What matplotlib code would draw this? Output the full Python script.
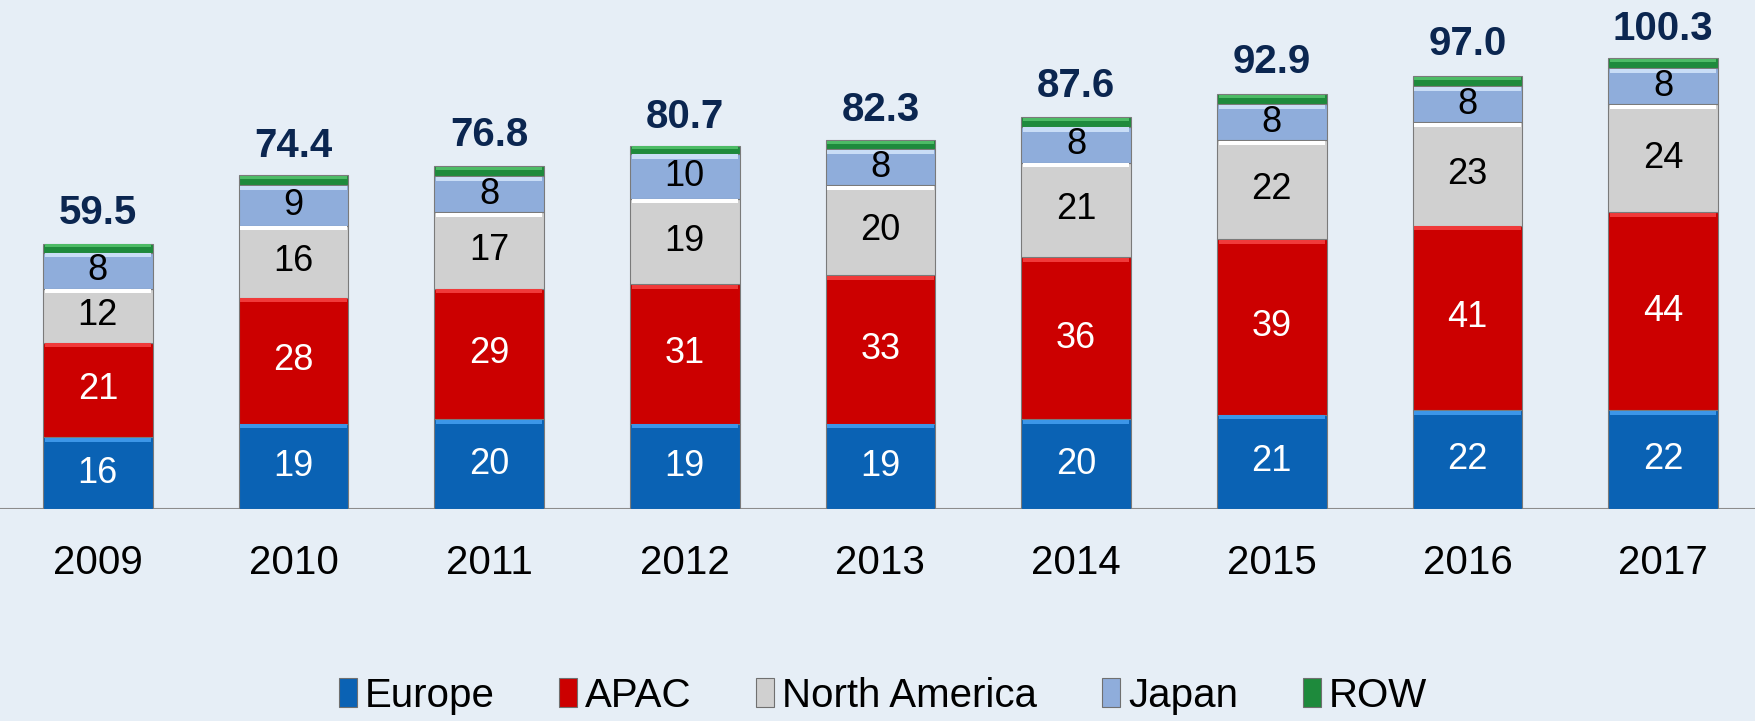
import matplotlib.pyplot as plt
import numpy as np
from matplotlib.patches import Patch

years = ["2009", "2010", "2011", "2012", "2013", "2014", "2015", "2016", "2017"]
europe = [16, 19, 20, 19, 19, 20, 21, 22, 22]
apac = [21, 28, 29, 31, 33, 36, 39, 41, 44]
north_america = [12, 16, 17, 19, 20, 21, 22, 23, 24]
japan = [8, 9, 8, 10, 8, 8, 8, 8, 8]
row = [2.0, 2.2, 2.3, 1.8, 2.0, 2.2, 2.3, 2.3, 2.3]
totals = [59.5, 74.4, 76.8, 80.7, 82.3, 87.6, 92.9, 97.0, 100.3]

series = [
    ("Europe", europe, "#0A62B4", "#3C96E8", "white"),
    ("APAC", apac, "#CC0000", "#F03A3A", "white"),
    ("North America", north_america, "#D0D0D0", "#FFFFFF", "black"),
    ("Japan", japan, "#8FADDB", "#C9DDF6", "black"),
    ("ROW", row, "#1E8A3C", "#4DBB66", None),
]

bg = "#E6EEF6"
plt.rcParams["font.family"] = ["Liberation Sans", "DejaVu Sans"]

fig = plt.figure(figsize=(17.55, 7.21), dpi=100, facecolor=bg)
ax = fig.add_axes([0, 1 - 509 / 721, 1, 509 / 721])
ax.set_facecolor(bg)

x = np.arange(len(years))
width = 0.56
bottom = np.zeros(len(years))

for name, vals, color, light, tcolor in series:
    vals = np.array(vals, dtype=float)
    ax.bar(x, vals, width, bottom=bottom, color=color,
           edgecolor="#7A7A7A", linewidth=0.8, zorder=3)
    # bevel highlight at the top of each segment
    hl = np.minimum(vals * 0.3, 0.9)
    ax.bar(x, hl, width * 0.97, bottom=bottom + vals - hl - 0.15,
           color=light, linewidth=0, zorder=4)
    if tcolor:
        for xi, b, v in zip(x, bottom, vals):
            ax.text(xi, b + v / 2, f"{v:.0f}", ha="center", va="center",
                    fontsize=26, color=tcolor, zorder=5)
    bottom += vals

for xi, t in zip(x, totals):
    ax.text(xi, t + 2.2, f"{t:.1f}", ha="center", va="bottom",
            fontsize=29, fontweight="bold", color="#0B2650", zorder=5)

ax.axhline(0, color="#8C8C8C", linewidth=1.5, zorder=2)
ax.set_xlim(-0.5, 8.47)
ax.set_ylim(0, 113.2)
for s in ax.spines.values():
    s.set_visible(False)
ax.set_yticks([])
ax.set_xticks(x)
ax.set_xticklabels(years, fontsize=29)
ax.tick_params(axis="x", length=0, pad=25)

handles = [Patch(facecolor=c, edgecolor="#707070", linewidth=0.8)
           for _, _, c, _, _ in series]
labels = [s[0] for s in series]
fig.legend(handles, labels, loc="center", bbox_to_anchor=(0.503, 0.035),
           ncol=5, frameon=False, fontsize=29, handlelength=0.45,
           handleheight=0.75, handletextpad=0.2, columnspacing=1.6)

fig.savefig("out.png", dpi=100, facecolor=bg)
